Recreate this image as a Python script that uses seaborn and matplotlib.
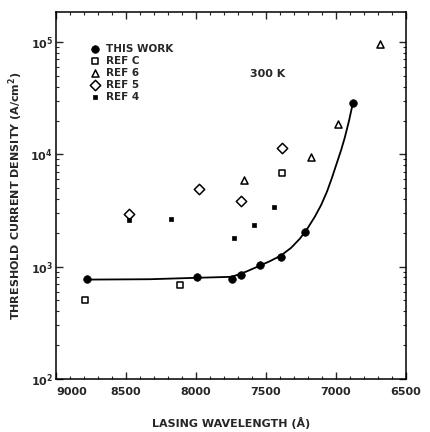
import numpy as np
import pandas as pd
import matplotlib
matplotlib.use("Agg")
import matplotlib.pyplot as plt
from matplotlib.ticker import LogLocator, MultipleLocator, FixedLocator
import seaborn as sns

# ---- data ----
this_work_wl = [8779, 7993, 7743, 7679, 7543, 7393, 7221, 6879]
this_work_j = [770, 815, 781, 849, 1043, 1228, 2054, 28500]

ref_c_wl = [8793, 8114, 7386]
ref_c_j = [507, 690, 6760]

ref6_wl = [7657, 7179, 6986, 6686]
ref6_j = [5860, 9400, 18500, 96000]

ref5_wl = [8479, 7979, 7679, 7386]
ref5_j = [2970, 4870, 3880, 11300]

ref4_wl = [8479, 8179, 7729, 7586, 7443]
ref4_j = [2580, 2680, 1815, 2324, 3365]

curve_wl = [8779, 8329, 7993, 7743, 7643, 7543, 7470, 7393, 7320, 7257, 7200,
            7150, 7105, 7064, 7028, 6993, 6962, 6936, 6907, 6879]
curve_j = [766, 772, 795, 811, 900, 1019, 1120, 1254, 1470, 1775, 2220,
           2790, 3550, 4650, 6200, 8400, 11000, 14200, 19800, 28500]

x_ticks = [9000, 8500, 8000, 7500, 7000, 6500]
x_ticklabels = ["9000", "8500", "8000", "7500", "7000", "6500"]

sns.set_style("ticks")
plt.rcParams["font.family"] = ["DejaVu Sans"]
plt.rcParams["font.weight"] = "bold"

fig = plt.figure(figsize=(4.30, 4.32), dpi=100)
ax = fig.add_axes([0.130, 0.123, 0.814, 0.849])

curve = pd.DataFrame({"wl": curve_wl, "j": curve_j})
sns.lineplot(data=curve, x="wl", y="j", ax=ax, color="black", lw=1.3,
             sort=False, estimator=None)

def pts(wl, j, label, marker, size, filled):
    df = pd.DataFrame({"wl": wl, "j": j})
    if filled:
        sns.scatterplot(data=df, x="wl", y="j", ax=ax, marker=marker, s=size,
                        color="black", edgecolor="black", linewidth=0.5,
                        label=label, zorder=3)
    else:
        sns.scatterplot(data=df, x="wl", y="j", ax=ax, marker=marker, s=size,
                        facecolor="white", edgecolor="black", linewidth=1.1,
                        label=label, zorder=3)

pts(this_work_wl, this_work_j, "THIS WORK", "o", 30, True)
pts(ref_c_wl, ref_c_j, "REF C", "s", 22, False)
pts(ref6_wl, ref6_j, "REF 6", "^", 26, False)
pts(ref5_wl, ref5_j, "REF 5", "D", 28, False)
pts(ref4_wl, ref4_j, "REF 4", "s", 9, True)

ax.set_yscale("log")
ax.set_ylim(100, 1.85e5)
ax.set_xlim(9000, 6500)

ax.xaxis.set_major_locator(FixedLocator(x_ticks))
ax.set_xticklabels(x_ticklabels)
ax.xaxis.set_minor_locator(MultipleLocator(100))
ax.yaxis.set_major_locator(LogLocator(base=10))
ax.yaxis.set_minor_locator(LogLocator(base=10, subs=np.arange(2, 10)))

ax.tick_params(axis="both", which="both", direction="in", top=True, right=True,
               labelsize=8)
ax.tick_params(axis="x", pad=6)
ax.tick_params(axis="y", pad=2)
ax.tick_params(which="major", length=5, width=1)
ax.tick_params(which="minor", length=2.5, width=0.8)
for s in ax.spines.values():
    s.set_linewidth(1.1)
    s.set_color("black")

fig.canvas.draw()
xl = ax.get_xticklabels()
xl[0].set_horizontalalignment("left")

ax.set_xlabel("LASING WAVELENGTH (Å)", fontsize=8, fontweight="bold", labelpad=14)
ax.set_ylabel("THRESHOLD CURRENT DENSITY (A/cm$^2$)", fontsize=8,
              fontweight="bold", labelpad=4)

ax.text(7486, 51800, "300 K", fontsize=8, ha="center", va="center", fontweight="bold")

leg = ax.legend(loc="upper left", bbox_to_anchor=(0.085, 0.925), frameon=False,
                fontsize=7.5, handletextpad=0.6, labelspacing=0.2,
                borderaxespad=0.0, handlelength=1.0)

fig.savefig("out.png", dpi=100)
